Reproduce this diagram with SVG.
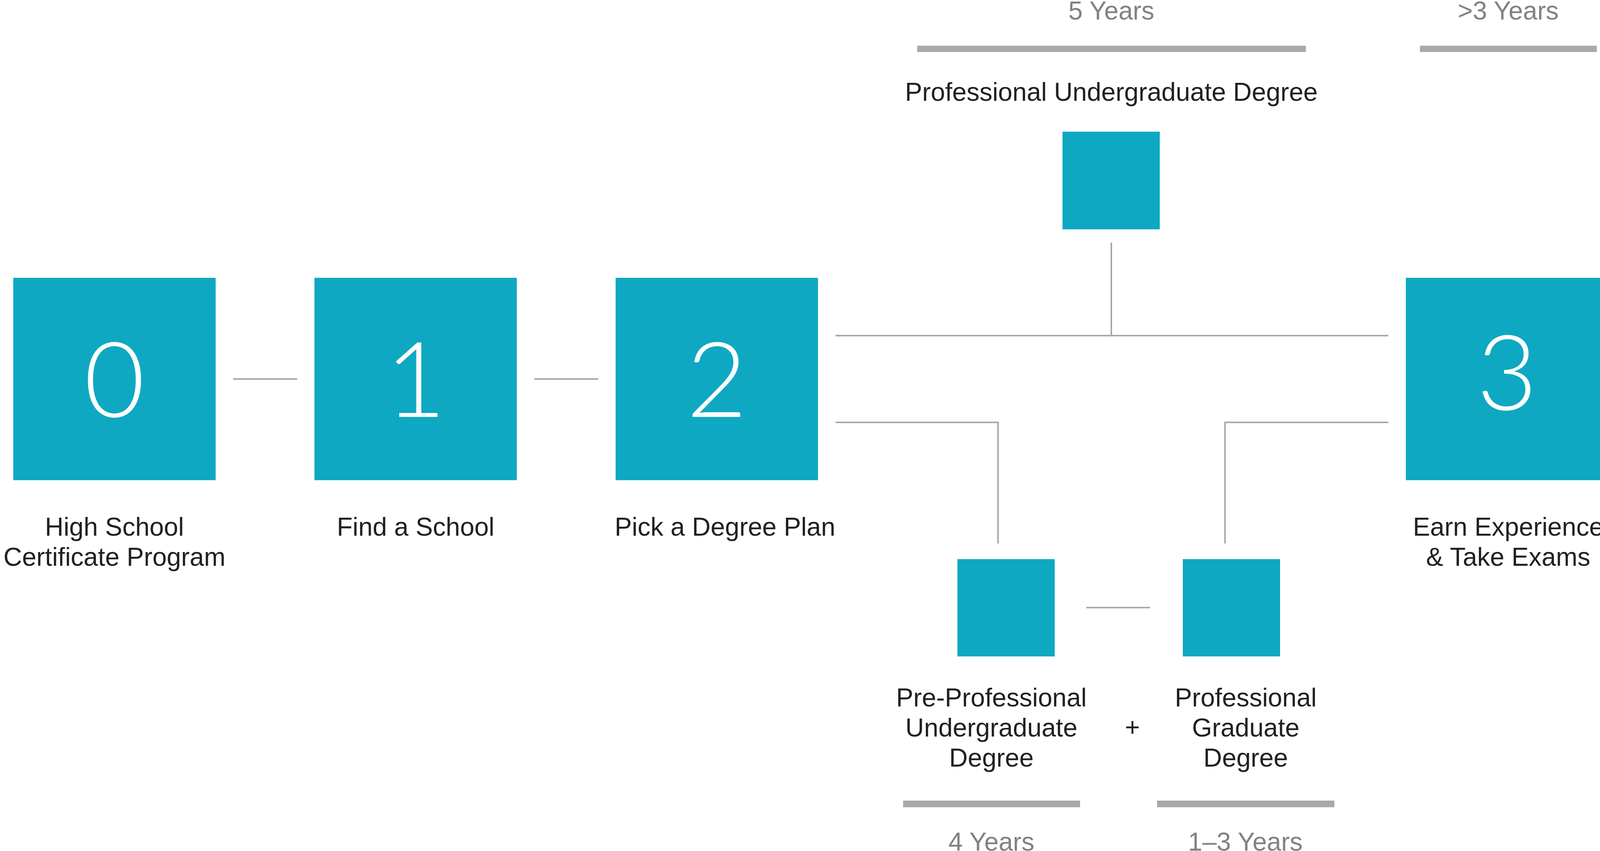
<svg xmlns="http://www.w3.org/2000/svg" width="4889" height="2178" viewBox="0 0 4889 2178">
<style>
.box{fill:#0ea8c2}
.digit{font-family:"Lato","DejaVu Sans",sans-serif;font-weight:300;font-size:268px;fill:#ffffff;text-anchor:middle}
.lbl{font-family:"Liberation Sans",Arial,sans-serif;font-size:66px;fill:#231f20;text-anchor:middle}
.yrs{font-family:"Liberation Sans",Arial,sans-serif;font-size:66px;fill:#808285;text-anchor:middle}
.bar{fill:#a7a9ac}
.conn{fill:none;stroke:#a7a9ac;stroke-width:4}
</style>
<rect width="4889" height="2178" fill="#ffffff"/>
<g id="connectors">
<line class="conn" x1="597" y1="970" x2="761" y2="970"/>
<line class="conn" x1="1368" y1="970" x2="1532" y2="970"/>
<line class="conn" x1="4162" y1="970" x2="4325" y2="970"/>
<line class="conn" x1="2139" y1="859" x2="3554" y2="859"/>
<line class="conn" x1="2845" y1="621" x2="2845" y2="859"/>
<polyline class="conn" points="2139,1081 2555,1081 2555,1391"/>
<polyline class="conn" points="3554,1081 3136,1081 3136,1391"/>
<line class="conn" x1="2781" y1="1555" x2="2944" y2="1555"/>
</g>
<g id="step0">
<rect class="box" x="34" y="711" width="518" height="518"/>
<text class="digit" x="293" y="1067">0</text>
<text class="lbl" x="293" y="1371">High School</text>
<text class="lbl" x="293" y="1448">Certificate Program</text>
</g>
<g id="step1">
<rect class="box" x="805" y="711" width="518" height="518"/>
<text class="digit" x="1064" y="1067">1</text>
<text class="lbl" x="1064" y="1371">Find a School</text>
</g>
<g id="step2">
<rect class="box" x="1576" y="711" width="518" height="518"/>
<text class="digit" x="1835" y="1067">2</text>
<text class="lbl" x="1856" y="1371">Pick a Degree Plan</text>
</g>
<g id="step3">
<rect class="box" x="3599" y="711" width="518" height="518"/>
<text class="digit" x="3858" y="1049">3</text>
<text class="lbl" x="3861" y="1371">Earn Experience</text>
<text class="lbl" x="3861" y="1448">&amp; Take Exams</text>
</g>
<g id="step4">
<rect class="box" x="4370" y="711" width="518" height="518"/>
<text class="digit" x="4629" y="1049">4</text>
<text class="lbl" x="4634" y="1371">Maintain</text>
<text class="lbl" x="4634" y="1448">Your License</text>
</g>
<g id="prof-undergrad">
<rect class="box" x="2720" y="337" width="249" height="250"/>
<text class="lbl" x="2845" y="258">Professional Undergraduate Degree</text>
</g>
<g id="pre-prof-undergrad">
<rect class="box" x="2451" y="1431" width="249" height="249"/>
<text class="lbl" x="2538" y="1808">Pre-Professional</text>
<text class="lbl" x="2538" y="1885">Undergraduate</text>
<text class="lbl" x="2538" y="1962">Degree</text>
</g>
<g id="plus">
<text class="lbl" x="2899" y="1884">+</text>
</g>
<g id="prof-grad">
<rect class="box" x="3028" y="1431" width="249" height="249"/>
<text class="lbl" x="3189" y="1808">Professional</text>
<text class="lbl" x="3189" y="1885">Graduate</text>
<text class="lbl" x="3189" y="1962">Degree</text>
</g>
<g id="durations">
<rect class="bar" x="2348" y="117" width="995" height="16"/>
<text class="yrs" x="2845" y="50">5 Years</text>
<rect class="bar" x="3635" y="117" width="453" height="16"/>
<text class="yrs" x="3861" y="50">&gt;3 Years</text>
<rect class="bar" x="2312" y="2049" width="453" height="17"/>
<text class="yrs" x="2538" y="2177">4 Years</text>
<rect class="bar" x="2962" y="2049" width="454" height="17"/>
<text class="yrs" x="3188" y="2177">1–3 Years</text>
</g>
</svg>
